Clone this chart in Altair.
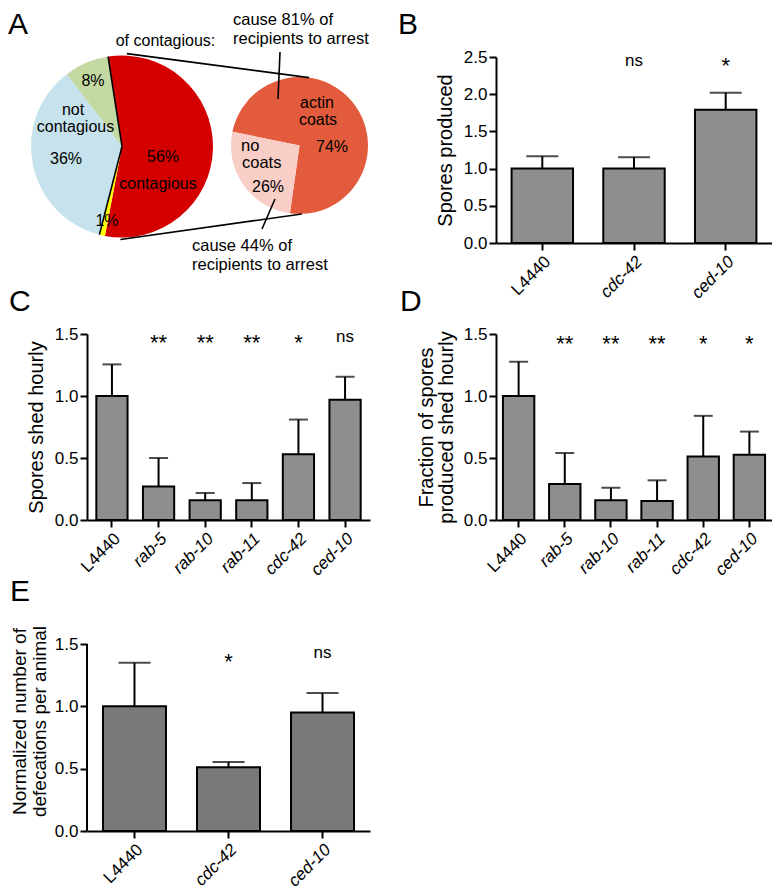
import math
import altair as alt
import pandas as pd

FONT = "Liberation Sans"

# ---------------- Panel A data ----------------
outer_names = ["contagious", "minor", "not contagious", "other"]
outer_pct = [56, 1, 36, 8]
outer_fill = ["#d40000", "#ffff00", "#c6e3ed", "#c4d9a2"]
inner_names = ["actin coats", "no coats"]
inner_pct = [74, 26]
inner_fill = ["#e35b3d", "#f8cec7"]

# ---------------- Panels B-E data ----------------
b_cats = ["L4440", "cdc-42", "ced-10"]
b_vals = [1.0, 1.0, 1.79]
b_errs = [1.165, 1.153, 2.02]
b_sig = ["", "ns", "*"]

c_cats = ["L4440", "rab-5", "rab-10", "rab-11", "cdc-42", "ced-10"]
c_vals = [1.0, 0.27, 0.16, 0.16, 0.53, 0.97]
c_errs = [1.255, 0.50, 0.218, 0.298, 0.81, 1.155]
c_sig = ["", "**", "**", "**", "*", "ns"]

d_cats = ["L4440", "rab-5", "rab-10", "rab-11", "cdc-42", "ced-10"]
d_vals = [1.0, 0.29, 0.16, 0.154, 0.513, 0.527]
d_errs = [1.277, 0.54, 0.26, 0.32, 0.84, 0.713]
d_sig = ["", "**", "**", "**", "*", "*"]

e_cats = ["L4440", "cdc-42", "ced-10"]
e_vals = [1.0, 0.511, 0.95]
e_errs = [1.35, 0.553, 1.106]
e_sig = ["", "*", "ns"]

# ---------------- helpers ----------------
def pie_table(names, pcts, fills, start_deg):
    total = float(sum(pcts))
    rows, acc = [], 0.0
    for n, p, f in zip(names, pcts, fills):
        a0 = math.radians(start_deg + 360.0 * acc / total)
        acc += p
        a1 = math.radians(start_deg + 360.0 * acc / total)
        rows.append({"name": n, "t0": a0, "t1": a1, "fill": f})
    return pd.DataFrame(rows)


def on_circle(c, r, deg):
    a = math.radians(deg)
    return c[0] + r * math.sin(a), c[1] - r * math.cos(a)


# layout of panel A (pixels inside its cell)
LC, LR, LSTART = (35.0, 89.5), 91.0, 351.2
RC, RR, RSTART = (212.5, 88.5), 68.5, 281.6

outer_df = pie_table(outer_names, outer_pct, outer_fill, LSTART)
inner_df = pie_table(inner_names, inner_pct, inner_fill, RSTART)

top_edge_deg = math.degrees(outer_df["t0"][0])
bot_edge_deg = math.degrees(outer_df["t0"][2])
edges = []
for d in (top_edge_deg, bot_edge_deg):
    x2, y2 = on_circle(LC, LR, d)
    edges.append({"x1": LC[0], "y1": LC[1], "x2": x2, "y2": y2})
for dl, dr in ((3.0, 8.0), (181.0, 178.0)):
    x1, y1 = on_circle(LC, LR + 2, dl)
    x2, y2 = on_circle(RC, RR, dr)
    edges.append({"x1": x1, "y1": y1, "x2": x2, "y2": y2})
edges.append({"x1": 193, "y1": -5, "x2": 191, "y2": 42})
edges.append({"x1": 175, "y1": 172, "x2": 188, "y2": 142})
lines_df = pd.DataFrame(edges)

center_texts = pd.DataFrame([
    ("of contagious:", 78.5, -11),
    ("8%", 6, 29),
    ("not", -14, 58),
    ("contagious", -11.5, 75),
    ("36%", -21, 107),
    ("56%", 76, 105),
    ("contagious", 71, 132),
    ("1%", 20, 169),
    ("actin", 230, 51),
    ("coats", 231, 68),
    ("74%", 245, 95),
    ("26%", 181, 135),
], columns=["t", "x", "y"])
left_texts = pd.DataFrame([
    ("cause 81% of", 146, -32),
    ("recipients to arrest", 146, -13),
    ("no", 154, 94),
    ("coats", 155, 111),
    ("cause 44% of", 105, 194),
    ("recipients to arrest", 105, 213),
], columns=["t", "x", "y"])


def px(field):
    return alt.X(field, scale=None, axis=None)


def py(field):
    return alt.Y(field, scale=None, axis=None)


def letter(ch, x, y):
    return alt.Chart(pd.DataFrame({"t": [ch]})).mark_text(
        font=FONT, fontSize=30, align="left", baseline="alphabetic", color="black"
    ).encode(x=alt.value(x), y=alt.value(y), text="t:N")


NOBORDER = alt.ViewBackground(stroke="transparent", strokeWidth=0)

outer_pie = alt.Chart(outer_df).mark_arc(radius=LR).encode(
    x=alt.value(LC[0]), y=alt.value(LC[1]),
    theta=alt.Theta("t0:Q", scale=None), theta2="t1:Q",
    fill=alt.Fill("fill:N", scale=None))
inner_pie = alt.Chart(inner_df).mark_arc(radius=RR).encode(
    x=alt.value(RC[0]), y=alt.value(RC[1]),
    theta=alt.Theta("t0:Q", scale=None), theta2="t1:Q",
    fill=alt.Fill("fill:N", scale=None))
a_lines = alt.Chart(lines_df).mark_rule(color="black", strokeWidth=1.6).encode(
    x=px("x1:Q"), y=py("y1:Q"), x2="x2:Q", y2="y2:Q")
a_ctext = alt.Chart(center_texts).mark_text(
    font=FONT, fontSize=16, align="center", baseline="alphabetic", color="black"
).encode(x=px("x:Q"), y=py("y:Q"), text="t:N")
a_ltext = alt.Chart(left_texts).mark_text(
    font=FONT, fontSize=16.5, align="left", baseline="alphabetic", color="black"
).encode(x=px("x:Q"), y=py("y:Q"), text="t:N")

panel_a = alt.layer(outer_pie, inner_pie, a_lines, a_ctext, a_ltext,
                    letter("A", -79, -23)).properties(width=283, height=186, view=NOBORDER)


def bar_panel(cats, vals, errs, sigs, sig_y, title, width, height, ymax,
              fill, cap, pin, pout, let, lpos, axis_top=None, title_lh=21, title_pad=8,
              title_size=20):
    df = pd.DataFrame({"cat": cats, "val": vals, "err": errs,
                       "sig": sigs, "sy": sig_y,
                       "fs": [22 if s.startswith("*") else 17 for s in sigs]})
    xs = alt.Scale(domain=cats, paddingInner=pin, paddingOuter=pout)
    xaxis = alt.Axis(
        labelAngle=-45, labelFont=FONT, labelFontSize=17, labelColor="black",
        labelFontStyle={"condition": {"test": "datum.value !== 'L4440'", "value": "italic"},
                        "value": "normal"},
        domainColor="black", domainWidth=2, tickColor="black", tickWidth=2,
        tickSize=7, labelPadding=3, title=None, offset=0)
    ticks = [round(0.5 * i, 1) for i in range(int(round((axis_top or ymax) / 0.5)) + 1)]
    yaxis = alt.Axis(
        values=ticks, format=".1f", grid=False, domain=axis_top is None, offset=0,
        domainColor="black", domainWidth=2, tickColor="black", tickWidth=2,
        tickSize=7, labelFont=FONT, labelFontSize=17, labelColor="black",
        labelPadding=2, titleFont=FONT, titleFontSize=title_size, titleFontWeight="normal",
        titleColor="black", titlePadding=title_pad, titleLineHeight=title_lh)
    ys = alt.Scale(domain=[0, ymax], nice=False, zero=True)

    def X():
        return alt.X("cat:N", scale=xs, axis=xaxis, title=None)

    def Y(f):
        return alt.Y(f, scale=ys, axis=yaxis, title=title)

    base = alt.Chart(df)
    bars = base.mark_bar(fill=fill, stroke="black", strokeWidth=2).encode(x=X(), y=Y("val:Q"))
    whisk = base.mark_rule(color="black", strokeWidth=2).encode(x=X(), y=Y("val:Q"), y2="err:Q")
    caps = base.mark_tick(color="black", thickness=2, size=cap).encode(x=X(), y=Y("err:Q"))
    sig = base.mark_text(font=FONT, baseline="alphabetic", color="black").encode(
        x=X(), y=Y("sy:Q"), text="sig:N", size=alt.Size("fs:Q", scale=None))
    layers = [whisk, bars, caps, sig, letter(let, lpos[0], lpos[1])]
    if axis_top is not None:
        ax = pd.DataFrame({"lo": [0.0], "hi": [axis_top]})
        layers.append(alt.Chart(ax).mark_rule(color="black", strokeWidth=2).encode(
            x=alt.value(0), y=Y("lo:Q"), y2="hi:Q"))
    return alt.layer(*layers).properties(width=width, height=height, view=NOBORDER)


b_sig_y = [0, 2.38, 2.29]
c_sig_y = [0, 1.368, 1.368, 1.368, 1.368, 1.433]
d_sig_y = [0, 1.36, 1.36, 1.36, 1.36, 1.36]
e_sig_y = [0, 1.297, 1.386]

H = 186
EH = 220
panel_b = bar_panel(b_cats, b_vals, b_errs, b_sig, b_sig_y, "Spores produced",
                    276, H, 2.5, "#8e8e8e", 32, 0.33, 0.17, "B", (-98, -23),
                    title_lh=20, title_pad=8)
panel_c = bar_panel(c_cats, c_vals, c_errs, c_sig, c_sig_y, "Spores shed hourly",
                    283, H, 1.5, "#8e8e8e", 19, 0.33, 0.2, "C", (-78, -23))
panel_d = bar_panel(d_cats, d_vals, d_errs, d_sig, d_sig_y,
                    ["Fraction of spores", "produced shed hourly"],
                    276, H, 1.5, "#8e8e8e", 19, 0.32, 0.15, "D", (-96, -23),
                    title_lh=20, title_pad=7)
panel_e = bar_panel(e_cats, e_vals, e_errs, e_sig, e_sig_y,
                    ["Normalized number of", "defecations per animal"],
                    283, EH, 1.5 * EH / 187, "#797979", 32, 0.33, 0.17, "E", (-77, -10),
                    axis_top=1.5, title_lh=20, title_pad=5, title_size=19)

chart = alt.concat(panel_a, panel_b, panel_c, panel_d, panel_e,
                   columns=2, spacing={"row": 91, "column": 126}, bounds="flush"
                   ).properties(padding={"top": 2, "left": 0, "right": 0, "bottom": 0}
                   ).configure_view(stroke="transparent", strokeWidth=0).configure(font=FONT)

chart.save("out.html", embed_options={"renderer": "svg", "actions": False})
